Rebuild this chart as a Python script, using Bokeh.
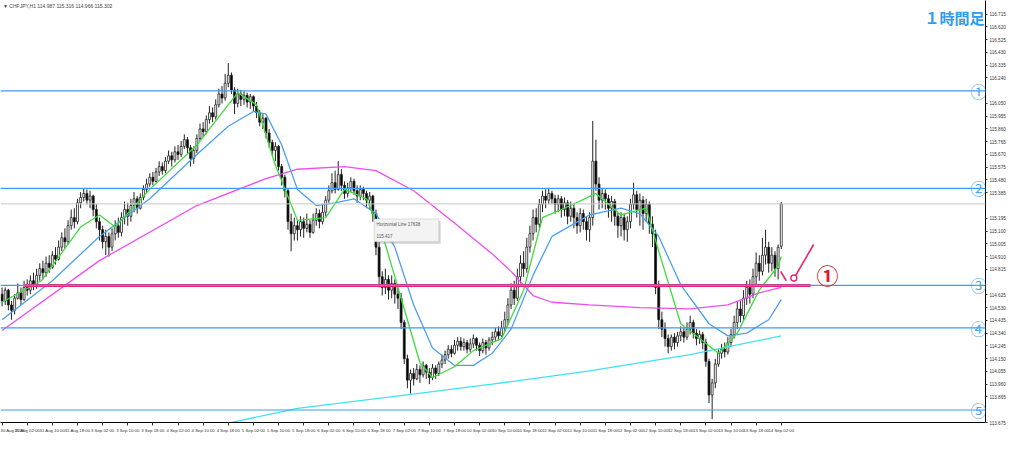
from bokeh.plotting import figure
from bokeh.models import (Range1d, FixedTicker, PrintfTickFormatter, Label,
                          BoxAnnotation, ColumnDataSource, Span)
from bokeh.embed import file_html
from bokeh.resources import INLINE

# ---------------- data (hourly candles, bar index 0 = 30 Aug 18:00) ----------------
opens = [114.63,
 114.58, 114.66, 114.55, 114.51, 114.60, 114.64, 114.59, 114.68, 114.66, 114.73, 114.70, 114.77,
 114.82, 114.79, 114.86, 114.83, 114.92, 114.89,
 114.98, 115.05, 115.02, 115.14, 115.20, 115.17, 115.31,
 115.35, 115.38, 115.33, 115.36,
 115.26, 115.17, 115.11, 115.02, 115.06, 114.98,
 115.08, 115.14, 115.09, 115.20, 115.26,
 115.21, 115.29, 115.34, 115.27, 115.35,
 115.41, 115.45, 115.50, 115.47, 115.54, 115.58,
 115.55, 115.62, 115.66, 115.63, 115.69, 115.67,
 115.73, 115.78, 115.72, 115.64, 115.70,
 115.79, 115.86, 115.84, 115.93, 115.98,
 115.95, 116.04, 116.12, 116.09, 116.20, 116.26,
 116.15, 116.05, 116.12,
 116.08, 116.11, 116.06, 116.10, 116.03,
 115.98, 115.91, 115.94, 115.83,
 115.76, 115.70, 115.73, 115.58, 115.50,
 115.40, 115.17, 115.08,
 115.14, 115.11, 115.17, 115.12, 115.15, 115.09, 115.18, 115.23, 115.17, 115.24,
 115.33, 115.40, 115.46, 115.41,
 115.52, 115.44, 115.38, 115.42, 115.47, 115.40, 115.36, 115.41, 115.38, 115.33,
 115.36, 115.23, 114.98,
 114.76, 114.68, 114.74, 114.66, 114.71, 114.63,
 114.60, 114.42, 114.15, 113.99,
 114.04, 114.00, 114.07, 114.03, 114.10, 114.05, 114.01, 114.08, 114.04, 114.11,
 114.14, 114.18, 114.22, 114.19, 114.25, 114.28,
 114.24, 114.27, 114.22, 114.26, 114.30, 114.25, 114.21, 114.27, 114.23, 114.29,
 114.31, 114.35, 114.32, 114.38,
 114.44, 114.55, 114.66, 114.60, 114.76, 114.86, 114.82,
 114.98, 115.08, 115.20, 115.15, 115.30, 115.36, 115.33, 115.38,
 115.34, 115.30, 115.34, 115.26, 115.31, 115.21, 115.27, 115.20, 115.14, 115.23, 115.17, 115.11,
 115.20, 115.62, 115.45,
 115.33, 115.38, 115.34, 115.27, 115.32,
 115.21, 115.14, 115.20, 115.11, 115.17,
 115.30, 115.37, 115.26, 115.33, 115.23, 115.30, 115.15,
 115.08, 114.68, 114.44,
 114.37, 114.30, 114.24, 114.31, 114.27,
 114.32, 114.35, 114.31, 114.37, 114.42, 114.34, 114.30, 114.33,
 114.27, 114.13, 113.88, 113.97,
 114.11, 114.19, 114.22, 114.20, 114.27,
 114.33, 114.42, 114.52, 114.47, 114.60,
 114.68, 114.63, 114.76, 114.86, 114.80,
 114.92, 114.98, 114.86, 114.92,
 114.82, 114.987]

closes = [
 114.58, 114.66, 114.55, 114.51, 114.60, 114.64, 114.59, 114.68, 114.66, 114.73, 114.70, 114.77, 114.82,
 114.79, 114.86, 114.83, 114.92, 114.89, 114.98,
 115.05, 115.02, 115.14, 115.20, 115.17, 115.31, 115.35,
 115.38, 115.33, 115.36, 115.26,
 115.17, 115.11, 115.02, 115.06, 114.98, 115.08,
 115.14, 115.09, 115.20, 115.26, 115.21,
 115.29, 115.34, 115.27, 115.35, 115.41,
 115.45, 115.50, 115.47, 115.54, 115.58, 115.55,
 115.62, 115.66, 115.63, 115.69, 115.67, 115.73,
 115.78, 115.72, 115.64, 115.70, 115.79,
 115.86, 115.84, 115.93, 115.98, 115.95,
 116.04, 116.12, 116.09, 116.20, 116.26, 116.15,
 116.05, 116.12, 116.08,
 116.11, 116.06, 116.10, 116.03, 115.98,
 115.91, 115.94, 115.83, 115.76,
 115.70, 115.73, 115.58, 115.50, 115.40,
 115.17, 115.08, 115.14,
 115.11, 115.17, 115.12, 115.15, 115.09, 115.18, 115.23, 115.17, 115.24, 115.33,
 115.40, 115.46, 115.41, 115.52,
 115.44, 115.38, 115.42, 115.47, 115.40, 115.36, 115.41, 115.38, 115.33, 115.36,
 115.23, 114.98, 114.76,
 114.68, 114.74, 114.66, 114.71, 114.63, 114.60,
 114.42, 114.15, 113.99, 114.04,
 114.00, 114.07, 114.03, 114.10, 114.05, 114.01, 114.08, 114.04, 114.11, 114.14,
 114.18, 114.22, 114.19, 114.25, 114.28, 114.24,
 114.27, 114.22, 114.26, 114.30, 114.25, 114.21, 114.27, 114.23, 114.29, 114.31,
 114.35, 114.32, 114.38, 114.44,
 114.55, 114.66, 114.60, 114.76, 114.86, 114.82, 114.98,
 115.08, 115.20, 115.15, 115.30, 115.36, 115.33, 115.38, 115.34,
 115.30, 115.34, 115.26, 115.31, 115.21, 115.27, 115.20, 115.14, 115.23, 115.17, 115.11, 115.20,
 115.62, 115.45, 115.33,
 115.38, 115.34, 115.27, 115.32, 115.21,
 115.14, 115.20, 115.11, 115.17, 115.30,
 115.37, 115.26, 115.33, 115.23, 115.30, 115.15, 115.08,
 114.68, 114.44, 114.37,
 114.30, 114.24, 114.31, 114.27, 114.32,
 114.35, 114.31, 114.37, 114.42, 114.34, 114.30, 114.33, 114.27,
 114.13, 113.88, 113.97, 114.11,
 114.19, 114.22, 114.20, 114.27, 114.33,
 114.42, 114.52, 114.47, 114.60, 114.68,
 114.63, 114.76, 114.86, 114.80, 114.92,
 114.98, 114.86, 114.92, 114.82,
 114.98, 115.302]

highs = [
 114.68, 114.68, 114.67, 114.58, 114.63, 114.71, 114.68, 114.73, 114.74, 114.77, 114.79, 114.82, 114.86,
 114.88, 114.91, 114.92, 114.95, 114.98, 115.03,
 115.09, 115.12, 115.18, 115.26, 115.27, 115.34, 115.39,
 115.42, 115.41, 115.40, 115.37,
 115.30, 115.20, 115.14, 115.11, 115.09, 115.12,
 115.18, 115.20, 115.24, 115.32, 115.31,
 115.34, 115.39, 115.36, 115.38, 115.44,
 115.49, 115.53, 115.54, 115.57, 115.62, 115.61,
 115.65, 115.70, 115.69, 115.73, 115.74, 115.77,
 115.82, 115.80, 115.74, 115.73, 115.82,
 115.90, 115.91, 115.96, 116.03, 116.02,
 116.08, 116.16, 116.18, 116.27, 116.35, 116.28,
 116.17, 116.16, 116.15,
 116.14, 116.13, 116.12, 116.11, 116.06,
 116.00, 115.97, 115.95, 115.86,
 115.78, 115.76, 115.74, 115.60, 115.52,
 115.42, 115.23, 115.20,
 115.18, 115.21, 115.20, 115.23, 115.18, 115.23, 115.27, 115.26, 115.30, 115.36,
 115.44, 115.53, 115.55, 115.62,
 115.56, 115.47, 115.46, 115.50, 115.49, 115.44, 115.44, 115.43, 115.40, 115.39,
 115.37, 115.26, 115.02,
 114.80, 114.82, 114.77, 114.77, 114.74, 114.68,
 114.64, 114.44, 114.18, 114.07,
 114.08, 114.11, 114.10, 114.13, 114.11, 114.08, 114.11, 114.10, 114.13, 114.18,
 114.21, 114.25, 114.25, 114.29, 114.31, 114.31,
 114.30, 114.29, 114.30, 114.33, 114.31, 114.27, 114.30, 114.29, 114.31, 114.35,
 114.38, 114.39, 114.43, 114.50,
 114.60, 114.71, 114.73, 114.82, 114.92, 114.95, 115.05,
 115.14, 115.26, 115.27, 115.34, 115.40, 115.41, 115.42, 115.40,
 115.37, 115.37, 115.36, 115.35, 115.33, 115.32, 115.31, 115.24, 115.27, 115.26, 115.21, 115.24,
 115.92, 115.78, 115.50,
 115.42, 115.41, 115.37, 115.36, 115.34,
 115.24, 115.24, 115.23, 115.21, 115.34,
 115.46, 115.40, 115.38, 115.36, 115.34, 115.32, 115.21,
 115.11, 114.73, 114.50,
 114.42, 114.33, 114.33, 114.34, 114.35,
 114.39, 114.38, 114.42, 114.47, 114.44, 114.37, 114.36, 114.35,
 114.30, 114.15, 114.00, 114.15,
 114.22, 114.26, 114.27, 114.31, 114.37,
 114.47, 114.58, 114.58, 114.66, 114.73,
 114.74, 114.82, 114.94, 114.92, 115.05,
 115.11, 115.02, 114.98, 114.95,
 115.00, 115.316]

lows = [
 114.54, 114.55, 114.51, 114.44, 114.48, 114.59, 114.55, 114.58, 114.62, 114.63, 114.66, 114.67, 114.73,
 114.74, 114.76, 114.79, 114.82, 114.85, 114.88,
 114.95, 114.97, 115.00, 115.11, 115.12, 115.15, 115.27,
 115.32, 115.30, 115.27, 115.21,
 115.12, 115.03, 114.97, 114.92, 114.91, 114.95,
 115.03, 115.05, 115.06, 115.15, 115.14,
 115.17, 115.24, 115.23, 115.26, 115.33,
 115.38, 115.43, 115.44, 115.46, 115.51, 115.52,
 115.53, 115.60, 115.58, 115.61, 115.63, 115.65,
 115.71, 115.68, 115.58, 115.60, 115.68,
 115.77, 115.80, 115.82, 115.90, 115.91,
 115.93, 116.02, 116.05, 116.07, 116.17, 116.12,
 115.97, 116.02, 116.03,
 116.04, 116.02, 116.01, 115.99, 115.94,
 115.88, 115.86, 115.79, 115.72,
 115.66, 115.62, 115.55, 115.44, 115.35,
 115.11, 114.95, 115.03,
 115.03, 115.06, 115.05, 115.09, 115.05, 115.08, 115.14, 115.12, 115.15, 115.21,
 115.31, 115.38, 115.38, 115.40,
 115.40, 115.34, 115.35, 115.39, 115.37, 115.31, 115.33, 115.33, 115.27, 115.26,
 115.17, 114.92, 114.68,
 114.62, 114.63, 114.59, 114.60, 114.56, 114.52,
 114.37, 114.11, 113.93, 113.89,
 113.95, 113.99, 113.97, 114.01, 114.00, 113.96, 113.99, 114.00, 114.02, 114.08,
 114.11, 114.15, 114.16, 114.18, 114.21, 114.21,
 114.21, 114.19, 114.20, 114.23, 114.21, 114.17, 114.19, 114.18, 114.21, 114.25,
 114.28, 114.29, 114.31, 114.35,
 114.40, 114.52, 114.55, 114.58, 114.71, 114.76, 114.79,
 114.94, 115.03, 115.09, 115.12, 115.24, 115.27, 115.30, 115.30,
 115.23, 115.24, 115.20, 115.21, 115.15, 115.17, 115.12, 115.08, 115.09, 115.11, 115.03, 115.02,
 115.14, 115.40, 115.26,
 115.27, 115.26, 115.20, 115.17, 115.14,
 115.05, 115.06, 115.03, 115.02, 115.12,
 115.26, 115.20, 115.14, 115.11, 115.17, 115.08, 114.98,
 114.63, 114.37, 114.31,
 114.24, 114.19, 114.21, 114.22, 114.24,
 114.28, 114.27, 114.29, 114.33, 114.30, 114.25, 114.26, 114.22,
 114.09, 113.82, 113.70, 113.93,
 114.09, 114.15, 114.16, 114.18, 114.24,
 114.30, 114.37, 114.42, 114.44, 114.55,
 114.56, 114.60, 114.70, 114.73, 114.77,
 114.85, 114.79, 114.80, 114.76,
 114.74, 114.966]

# moving averages (bar index, price)
ma_fast_x = [0, 12.5, 25, 31, 36, 47, 62, 75, 81, 87, 94, 103, 109, 116, 122, 128, 133, 137, 144, 150,
             159, 166, 172, 181, 189, 197, 205, 209, 216, 222, 228, 234, 241, 247, 248]
ma_fast_y = [114.57, 114.73, 115.13, 115.22, 115.13, 115.41, 115.74, 116.13, 116.04, 115.59, 115.18,
             115.20, 115.41, 115.34, 115.00, 114.52, 114.12, 114.01, 114.09, 114.21, 114.30, 114.66,
             115.20, 115.29, 115.38, 115.22, 115.27, 114.95, 114.41, 114.30, 114.19, 114.34, 114.66,
             114.84, 114.91]
ma_mid_x = [0, 16, 31, 47, 62, 72, 80, 84, 89, 94, 100, 106, 112, 119, 125, 131, 137, 144, 150, 156,
            162, 169, 175, 187, 197, 203, 209, 216, 225, 231, 237, 244, 248]
ma_mid_y = [114.44, 114.73, 115.06, 115.34, 115.67, 115.88, 115.99, 115.97, 115.74, 115.41, 115.29,
            115.31, 115.34, 115.23, 114.98, 114.55, 114.23, 114.10, 114.10, 114.19, 114.37, 114.77,
            115.06, 115.22, 115.27, 115.23, 115.06, 114.70, 114.41, 114.32, 114.34, 114.44, 114.59]
ma_slow_x = [0, 31, 62, 84, 94, 109, 119, 131, 144, 156, 162, 169, 175, 187, 203, 219, 231, 241, 248]
ma_slow_y = [114.36, 114.88, 115.29, 115.49, 115.56, 115.58, 115.55, 115.40, 115.16, 114.93, 114.80,
             114.62, 114.57, 114.55, 114.53, 114.52, 114.55, 114.64, 114.68]
ma_long_x = [68, 94, 125, 156, 187, 219, 248]
ma_long_y = [113.65, 113.78, 113.87, 113.96, 114.06, 114.18, 114.32]

# horizontal line objects
hline_prices = [116.144, 115.417, 114.695, 114.379, 113.768]
hline_marks = ["①", "②", "③", "④", "⑤"]
current_price = 115.302

# axes
price_ticks = [113.675, 113.865, 113.960, 114.055, 114.150, 114.245, 114.340, 114.435,
               114.530, 114.625, 114.815, 114.910, 115.005, 115.100, 115.195, 115.385,
               115.480, 115.575, 115.670, 115.765, 115.860, 115.955, 116.050, 116.240,
               116.335, 116.430, 116.525, 116.620, 116.715]
tick_bars = [0, 8, 16, 24, 32, 40, 48, 56, 64, 72, 80, 88, 96, 104, 112, 120, 128, 136, 144, 152,
             160, 168, 176, 184, 192, 200, 208, 216, 224, 232, 240, 248]
tick_labels = ["30 Aug 2018", "31 Aug 02:00", "31 Aug 10:00", "31 Aug 18:00",
               "3 Sep 02:00", "3 Sep 10:00", "3 Sep 18:00",
               "4 Sep 02:00", "4 Sep 10:00", "4 Sep 18:00",
               "5 Sep 02:00", "5 Sep 10:00", "5 Sep 18:00",
               "6 Sep 02:00", "6 Sep 10:00", "6 Sep 18:00",
               "7 Sep 02:00", "7 Sep 10:00", "7 Sep 18:00",
               "10 Sep 02:00", "10 Sep 10:00", "10 Sep 18:00",
               "11 Sep 02:00", "11 Sep 10:00", "11 Sep 18:00",
               "12 Sep 02:00", "12 Sep 10:00", "12 Sep 18:00",
               "13 Sep 02:00", "13 Sep 10:00", "13 Sep 18:00",
               "14 Sep 02:00"]

header_text = "▼ CHFJPY,H1  114.987 115.316 114.966 115.302"
title_text = "１時間足"
tooltip_lines = ["Horizontal Line 17638", "115.417"]

# ---------------- figure ----------------
bars = list(range(len(closes)))
tops = [max(o, c) for o, c in zip(opens, closes)]
bots = [min(o, c) for o, c in zip(opens, closes)]
fills = ["white" if c >= o else "black" for o, c in zip(opens, closes)]
src = ColumnDataSource(dict(x=bars, h=highs, l=lows, top=tops, bot=bots, fill=fills))

X_END = 313.0
p = figure(width=1008, height=438, output_backend="svg", toolbar_location=None,
           x_range=Range1d(-0.5, X_END), y_range=Range1d(113.675, 116.816),
           x_axis_location="below", y_axis_location="right",
           min_border_left=0, min_border_top=0, min_border_right=21, min_border_bottom=16,
           background_fill_color="white", border_fill_color="white", outline_line_color=None)
p.grid.visible = False

xa = p.xaxis[0]
xa.ticker = FixedTicker(ticks=tick_bars)
xa.major_label_overrides = {b: s for b, s in zip(tick_bars, tick_labels)}
xa.major_label_text_font = "Liberation Sans"
xa.major_label_text_font_size = "4.3px"
xa.major_label_text_color = "#333333"
xa.major_label_text_align = "left"
xa.major_label_standoff = 2
xa.major_tick_in = 0
xa.major_tick_out = 3
xa.minor_tick_line_color = None
xa.axis_line_color = "black"
xa.major_tick_line_color = "#333333"

ya = p.yaxis[0]
ya.ticker = FixedTicker(ticks=price_ticks)
ya.formatter = PrintfTickFormatter(format="%.3f")
ya.major_label_text_font = "Liberation Sans"
ya.major_label_text_font_size = "4.6px"
ya.major_label_text_color = "#333333"
ya.major_label_standoff = 2
ya.major_tick_in = 0
ya.major_tick_out = 2
ya.minor_tick_line_color = None
ya.axis_line_color = "black"
ya.major_tick_line_color = "#333333"

# current price line
p.add_layout(Span(location=current_price, dimension="width", line_color="#c8c8c8", line_width=1))

# candles
p.segment(x0="x", y0="h", x1="x", y1="l", source=src, line_color="#222222", line_width=1)
p.vbar(x="x", top="top", bottom="bot", width=0.62, source=src, fill_color="fill",
       line_color="#222222", line_width=0.8)

# moving averages
p.line(ma_long_x, ma_long_y, line_color="#3fe3f0", line_width=1.3)
p.line(ma_slow_x, ma_slow_y, line_color="#f04cf0", line_width=1.3)
p.line(ma_mid_x, ma_mid_y, line_color="#4c9ff0", line_width=1.3)
p.line(ma_fast_x, ma_fast_y, line_color="#3ddc3d", line_width=1.3)

# horizontal line objects + circled numbers + axis price boxes
for price, mark in zip(hline_prices, hline_marks):
    p.add_layout(Span(location=price, dimension="width", line_color="#3d9cf5", line_width=1.2))
    p.add_layout(Label(x=X_END - 2.2, y=price, text=mark, text_align="center", text_baseline="middle",
                       text_font="Noto Sans CJK JP", text_font_size="16px", text_color="#4aa8f2"))
    p.add_layout(Label(x=X_END + 0.2, y=price, text=f"{price:.3f}", text_align="left",
                       text_baseline="middle", text_font="Liberation Sans", text_font_size="4.6px",
                       text_color="white", background_fill_color="#2f80e8", padding=1))
p.add_layout(Label(x=X_END + 0.2, y=current_price, text=f"{current_price:.3f}", text_align="left",
                   text_baseline="middle", text_font="Liberation Sans", text_font_size="4.6px",
                   text_color="white", background_fill_color="#111111", padding=1))

# pink support line and arrow mark
support_x = [7.3, 257.3]
support_y = [114.695, 114.695]
p.line(support_x, support_y, line_color="#e6266f", line_width=3)
arrow_x = [252.6, 258.3]
arrow_y = [114.77, 115.00]
p.line(arrow_x, arrow_y, line_color="#e6266f", line_width=1.6)
p.scatter([252.0], [114.75], marker="circle", size=6, fill_color=None, line_color="#e6266f", line_width=1.4)
p.line([247.8, 249.6], [114.80, 114.73], line_color="#e6266f", line_width=1.6)

p.add_layout(Label(x=262.7, y=114.78, text="①", text_align="center", text_baseline="middle",
                   text_font="Noto Sans CJK JP", text_font_size="22px", text_font_style="bold",
                   text_color="#e3162b"))

# tooltip box
p.add_layout(BoxAnnotation(left=119.0, right=139.6, top=115.175, bottom=115.005,
                           fill_color="#888888", fill_alpha=0.35, line_color=None))
p.add_layout(BoxAnnotation(left=118.4, right=139.0, top=115.19, bottom=115.02,
                           fill_color="#f3f3f3", fill_alpha=1.0, line_color="#a0a0a0", line_width=1))
p.add_layout(Label(x=119.2, y=115.15, text=tooltip_lines[0], text_baseline="middle",
                   text_font="Liberation Sans", text_font_size="4.5px", text_color="#555555"))
p.add_layout(Label(x=119.2, y=115.06, text=tooltip_lines[1], text_baseline="middle",
                   text_font="Liberation Sans", text_font_size="4.5px", text_color="#555555"))

# header and title
p.add_layout(Label(x=0.3, y=116.775, text=header_text, text_baseline="middle",
                   text_font="Liberation Sans", text_font_size="5px", text_color="#444444"))
p.add_layout(Label(x=X_END - 0.3, y=116.69, text=title_text, text_align="right", text_baseline="middle",
                   text_font="Noto Sans CJK JP", text_font_size="15px", text_font_style="bold",
                   text_color="#2d9cf2"))

open("out.html", "w").write(file_html(p, INLINE))
